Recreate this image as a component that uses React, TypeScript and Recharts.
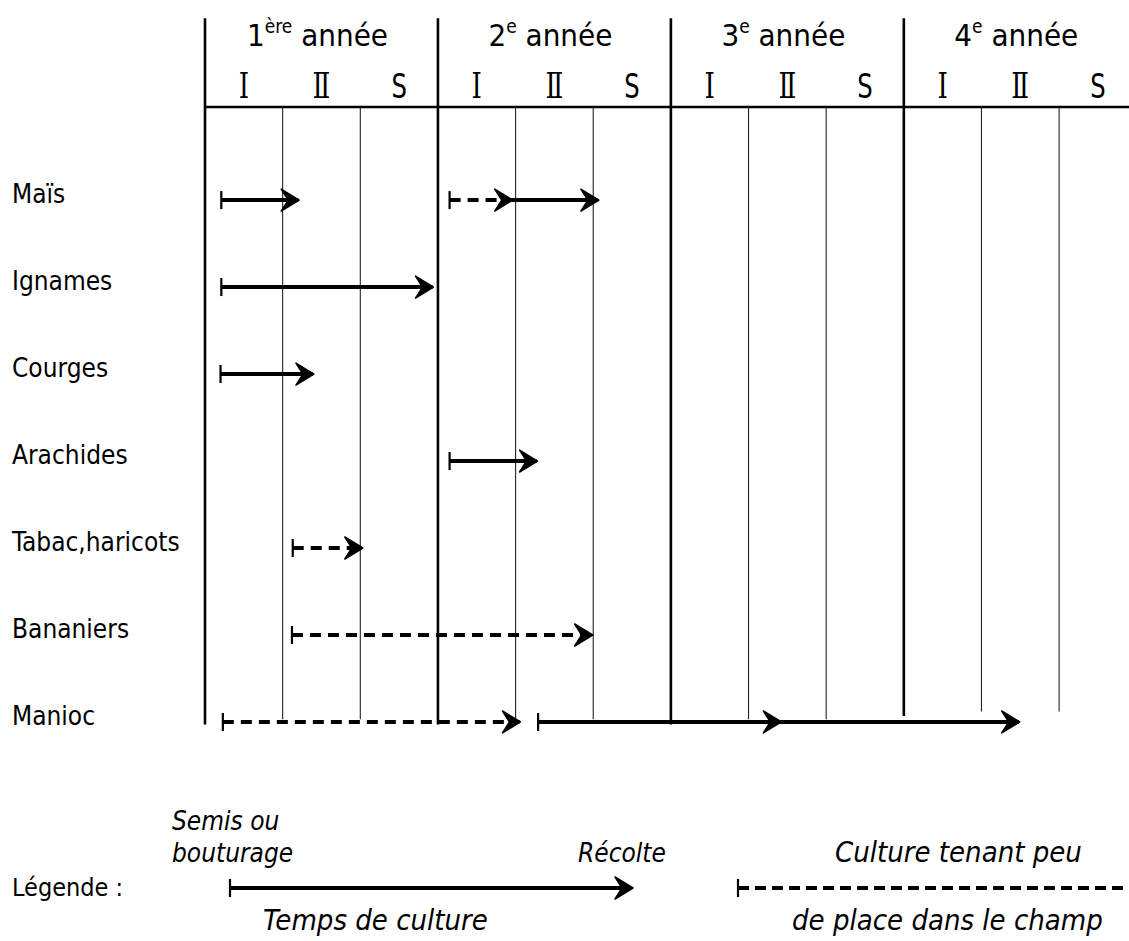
import { ComposedChart, Line, XAxis, YAxis, ReferenceLine, Legend } from "recharts"

// rows of the table, top to bottom
const crops = ["Maïs", "Ignames", "Courges", "Arachides", "Tabac,haricots", "Bananiers", "Manioc"]
const seasons = ["Ⅰ", "Ⅱ", "S"]
const yearNums = ["1", "2", "3", "4"]
const yearSups = ["ère", "e", "e", "e"]

// time axis in seasons (3 seasons a year, I / II / S)
const seasonTicks = [0.5, 1.5, 2.5, 3.5, 4.5, 5.5, 6.5, 7.5, 8.5, 9.5, 10.5, 11.5]
const yearBounds = [0, 3, 6, 9]
const seasonBounds = [1, 2, 4, 5, 7, 8, 10, 11]

// culture periods (one entry per drawn arrow)
const segRow = [0, 0, 0, 1, 2, 3, 4, 5, 6, 6]
const segStart = [0.21, 3.15, 3.95, 0.21, 0.2, 3.15, 1.13, 1.12, 0.23, 4.29]
const segEnd = [1.2, 3.95, 5.06, 2.93, 1.39, 4.27, 2.02, 4.98, 4.05, 10.48]
const segDashed = [false, true, false, false, false, false, true, true, true, false]
const segBar = [true, true, false, true, true, true, true, true, true, true]
const segMidArrow = [null, null, null, null, null, null, null, null, null, 7.41]

const FONT = "'Liberation Sans Narrow', 'DejaVu Sans Condensed', 'Arial Narrow', sans-serif"
const SERIF = "'DejaVu Serif', 'Liberation Serif', serif"

const segments = segRow.map((row, i) => {
  const pts = [{ x: segStart[i], y: row, mark: segBar[i] ? "bar" : "none" }]
  if (segMidArrow[i] != null) pts.push({ x: segMidArrow[i], y: row, mark: "arrow" })
  pts.push({ x: segEnd[i], y: row, mark: "arrow" })
  return { data: pts, dashed: segDashed[i] }
})

function ArrowHead({ x, y }: { x: number; y: number }) {
  return (
    <path
      d={`M${x + 1},${y} L${x - 17},${y - 11} L${x - 10},${y} L${x - 17},${y + 11} Z`}
      fill="#000"
      stroke="#000"
      strokeWidth={1.5}
      strokeLinejoin="round"
    />
  )
}

function StartBar({ x, y }: { x: number; y: number }) {
  return <line x1={x} x2={x} y1={y - 9} y2={y + 9} stroke="#000" strokeWidth={2.2} />
}

const renderMark = (props: any) => {
  const { cx, cy, payload, index } = props
  if (payload.mark === "arrow") return <ArrowHead key={index} x={cx} y={cy} />
  if (payload.mark === "bar") return <StartBar key={index} x={cx} y={cy} />
  return <g key={index} />
}

const CropTick = ({ y, payload }: any) => (
  <text x={12} y={y} dy={3} fontFamily={FONT} fontSize={26} fill="#000" textAnchor="start">
    {crops[payload.value]}
  </text>
)

const HeaderTick = ({ x, index }: any) => {
  const s = index % 3
  const yr = Math.floor(index / 3)
  return (
    <g>
      {s === 1 && (
        <text x={x - 4} y={46} textAnchor="middle" fontFamily={FONT} fontSize={31} fill="#000">
          {yearNums[yr]}
          <tspan fontSize={19} dy={-13}>{yearSups[yr]}</tspan>
          <tspan dy={13}>{" année"}</tspan>
        </text>
      )}
      {s < 2 ? (
        <text
          transform={`translate(${x},98) scale(0.75,1)`}
          textAnchor="middle"
          fontFamily={SERIF}
          fontSize={35}
          fill="#000"
        >
          {seasons[s]}
        </text>
      ) : (
        <text
          transform={`translate(${x},98) scale(0.82,1)`}
          textAnchor="middle"
          fontFamily={FONT}
          fontSize={33}
          fill="#000"
        >
          {seasons[s]}
        </text>
      )}
    </g>
  )
}

const italic = { fontFamily: FONT, fontStyle: "italic" as const, fontSize: 26, fill: "#000" }

function LegendBox() {
  return (
    <svg width={1129} height={161} style={{ display: "block" }}>
      <text x={12} y={116} fontFamily={FONT} fontSize={25} fill="#000">Légende :</text>
      <text x={172} y={50} {...italic}>Semis ou</text>
      <text x={172} y={82} {...italic}>bouturage</text>
      <text x={578} y={82} {...italic}>Récolte</text>
      <text x={263} y={150} {...italic} fontSize={29}>Temps de culture</text>
      <line x1={230} x2={630} y1={108} y2={108} stroke="#000" strokeWidth={4} />
      <StartBar x={230} y={108} />
      <ArrowHead x={632} y={108} />
      <text x={835} y={82} {...italic} fontSize={29}>Culture  tenant peu</text>
      <text x={792} y={150} {...italic} fontSize={29}>de place dans  le champ</text>
      <line x1={738} x2={1129} y1={108} y2={108} stroke="#000" strokeWidth={4} strokeDasharray="11 6" />
      <StartBar x={738} y={108} />
    </svg>
  )
}

export default function App() {
  return (
    <div style={{ position: "absolute", left: 0, top: 0, background: "#fff" }}>
      <ComposedChart width={1129} height={941} margin={{ top: 0, right: 0, bottom: 0, left: 0 }}>
        <XAxis
          type="number"
          dataKey="x"
          domain={[0, 11.9]}
          allowDataOverflow
          orientation="top"
          mirror
          ticks={seasonTicks}
          interval={0}
          axisLine={false}
          tickLine={false}
          tick={<HeaderTick />}
        />
        <YAxis
          type="number"
          dataKey="y"
          domain={[-2.3, 6.667]}
          allowDataOverflow
          reversed
          ticks={[0, 1, 2, 3, 4, 5, 6]}
          interval={0}
          width={205}
          axisLine={false}
          tickLine={false}
          tick={<CropTick />}
        />
        <ReferenceLine y={-1.07} stroke="#000" strokeWidth={2.5} />
        {yearBounds.map((b) => (
          <ReferenceLine
            key={"y" + b}
            segment={[{ x: b, y: -2.09 }, { x: b, y: b === 9 ? 5.93 : 6.03 }]}
            stroke="#000"
            strokeWidth={2.6}
          />
        ))}
        {seasonBounds.map((b) => (
          <ReferenceLine
            key={"s" + b}
            segment={[{ x: b, y: -1.07 }, { x: b, y: b > 9 ? 5.88 : 5.97 }]}
            stroke="#222"
            strokeWidth={1.1}
          />
        ))}
        {segments.map((seg, i) => (
          <Line
            key={i}
            data={seg.data}
            dataKey="y"
            type="linear"
            stroke="#000"
            strokeWidth={4}
            strokeDasharray={seg.dashed ? "11 7" : undefined}
            dot={renderMark}
            activeDot={false}
            isAnimationActive={false}
            legendType="none"
          />
        ))}
        <Legend
          verticalAlign="bottom"
          content={() => <LegendBox />}
          wrapperStyle={{ left: 0, bottom: 0, width: 1129 }}
        />
      </ComposedChart>
    </div>
  )
}
